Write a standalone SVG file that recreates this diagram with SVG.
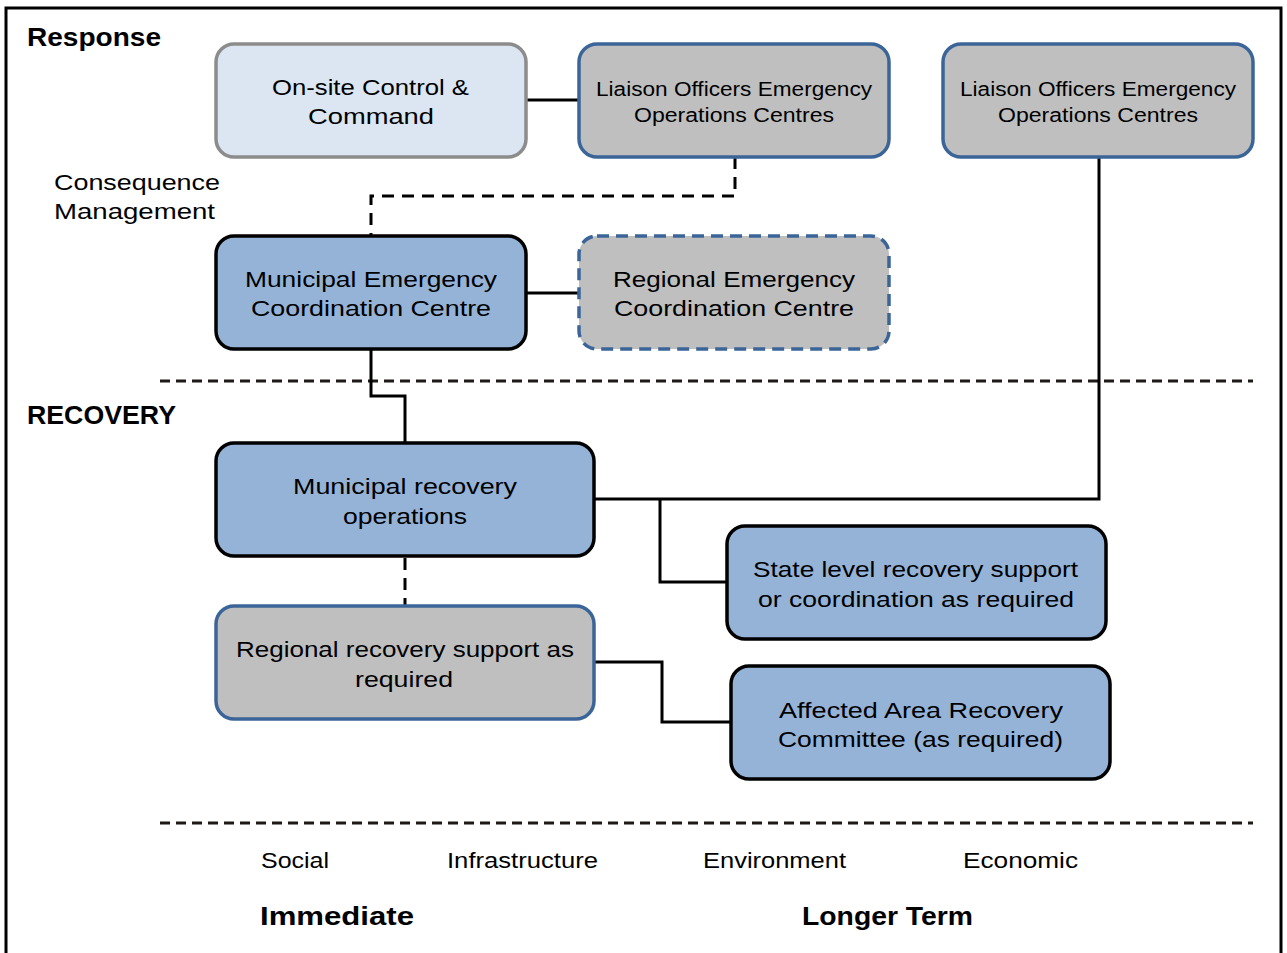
<svg xmlns="http://www.w3.org/2000/svg" width="1287" height="953" viewBox="0 0 1287 953">
<style>
text{font-family:"Liberation Sans",Arial,sans-serif;fill:#000}
.t{font-size:22px;text-anchor:start}
.ts{font-size:20px}
.b{font-weight:bold;font-size:26px}
.box{stroke-width:3.5}
.light{fill:#dce6f2;stroke:#8c8c8c}
.grey{fill:#bfbfbf;stroke:#3b6598}
.blue{fill:#95b3d7;stroke:#000}
.conn{fill:none;stroke:#000;stroke-width:3}
.dash{fill:none;stroke:#000;stroke-width:3;stroke-dasharray:12 8}
.sep{fill:none;stroke:#1f1a17;stroke-width:3;stroke-dasharray:10 6}
</style>
<rect x="0" y="0" width="1287" height="953" fill="#fff"/>
<path d="M6 960 V8 H1281 V960" fill="none" stroke="#000" stroke-width="3"/>
<g id="labels">
<text class="b" x="27" y="46" textLength="134" lengthAdjust="spacingAndGlyphs">Response</text>
<text class="t" x="54" y="190" textLength="166" lengthAdjust="spacingAndGlyphs">Consequence</text>
<text class="t" x="54" y="219" textLength="161" lengthAdjust="spacingAndGlyphs">Management</text>
<text class="b" x="27" y="424" textLength="149" lengthAdjust="spacingAndGlyphs">RECOVERY</text>
<text class="t" x="261" y="868" textLength="68" lengthAdjust="spacingAndGlyphs">Social</text>
<text class="t" x="447" y="868" textLength="151" lengthAdjust="spacingAndGlyphs">Infrastructure</text>
<text class="t" x="703" y="868" textLength="143" lengthAdjust="spacingAndGlyphs">Environment</text>
<text class="t" x="963" y="868" textLength="115" lengthAdjust="spacingAndGlyphs">Economic</text>
<text class="b" x="260" y="925" textLength="154" lengthAdjust="spacingAndGlyphs">Immediate</text>
<text class="b" x="802" y="925" textLength="171" lengthAdjust="spacingAndGlyphs">Longer Term</text>
</g>
<g id="separators">
<line class="sep" x1="160" y1="381" x2="1253" y2="381"/>
<line class="sep" x1="160" y1="823" x2="1253" y2="823"/>
</g>
<g id="connectors">
<line class="conn" x1="526" y1="100" x2="579" y2="100"/>
<path class="dash" d="M735 157 V196 H371 V236"/>
<line class="conn" x1="526" y1="293" x2="579" y2="293"/>
<path class="conn" d="M371 349 V396 H405 V443"/>
<path class="conn" d="M1099 157 V499 H594"/>
<path class="conn" d="M660 499 V582 H727"/>
<line class="dash" x1="405" y1="558" x2="405" y2="606"/>
<path class="conn" d="M594 662 H662 V722 H731"/>
</g>
<g id="onsite">
<rect class="box light" x="216" y="44" width="310" height="113" rx="18"/>
<text class="t" x="272" y="95" textLength="197" lengthAdjust="spacingAndGlyphs">On-site Control &amp;</text>
<text class="t" x="308" y="124" textLength="126" lengthAdjust="spacingAndGlyphs">Command</text>
</g>
<g id="liaison1">
<rect class="box grey" x="579" y="44" width="310" height="113" rx="18"/>
<text class="ts" x="596" y="96" textLength="276" lengthAdjust="spacingAndGlyphs">Liaison Officers Emergency</text>
<text class="ts" x="634" y="122" textLength="200" lengthAdjust="spacingAndGlyphs">Operations Centres</text>
</g>
<g id="liaison2">
<rect class="box grey" x="943" y="44" width="310" height="113" rx="18"/>
<text class="ts" x="960" y="96" textLength="276" lengthAdjust="spacingAndGlyphs">Liaison Officers Emergency</text>
<text class="ts" x="998" y="122" textLength="200" lengthAdjust="spacingAndGlyphs">Operations Centres</text>
</g>
<g id="mecc">
<rect class="box blue" x="216" y="236" width="310" height="113" rx="18"/>
<text class="t" x="245" y="287" textLength="252" lengthAdjust="spacingAndGlyphs">Municipal Emergency</text>
<text class="t" x="251" y="316" textLength="240" lengthAdjust="spacingAndGlyphs">Coordination Centre</text>
</g>
<g id="recc">
<rect class="box grey" x="579" y="236" width="310" height="113" rx="18" stroke-dasharray="12 7"/>
<text class="t" x="613" y="287" textLength="242" lengthAdjust="spacingAndGlyphs">Regional Emergency</text>
<text class="t" x="614" y="316" textLength="240" lengthAdjust="spacingAndGlyphs">Coordination Centre</text>
</g>
<g id="mrecovery">
<rect class="box blue" x="216" y="443" width="378" height="113" rx="18"/>
<text class="t" x="293" y="494" textLength="224" lengthAdjust="spacingAndGlyphs">Municipal recovery</text>
<text class="t" x="343" y="524" textLength="124" lengthAdjust="spacingAndGlyphs">operations</text>
</g>
<g id="rrecovery">
<rect class="box grey" x="216" y="606" width="378" height="113" rx="18"/>
<text class="t" x="236" y="657" textLength="338" lengthAdjust="spacingAndGlyphs">Regional recovery support as</text>
<text class="t" x="355" y="687" textLength="98" lengthAdjust="spacingAndGlyphs">required</text>
</g>
<g id="state">
<rect class="box blue" x="727" y="526" width="379" height="113" rx="18"/>
<text class="t" x="753" y="577" textLength="325" lengthAdjust="spacingAndGlyphs">State level recovery support</text>
<text class="t" x="758" y="607" textLength="316" lengthAdjust="spacingAndGlyphs">or coordination as required</text>
</g>
<g id="affected">
<rect class="box blue" x="731" y="666" width="379" height="113" rx="18"/>
<text class="t" x="779" y="718" textLength="284" lengthAdjust="spacingAndGlyphs">Affected Area Recovery</text>
<text class="t" x="778" y="747" textLength="285" lengthAdjust="spacingAndGlyphs">Committee (as required)</text>
</g>
</svg>
